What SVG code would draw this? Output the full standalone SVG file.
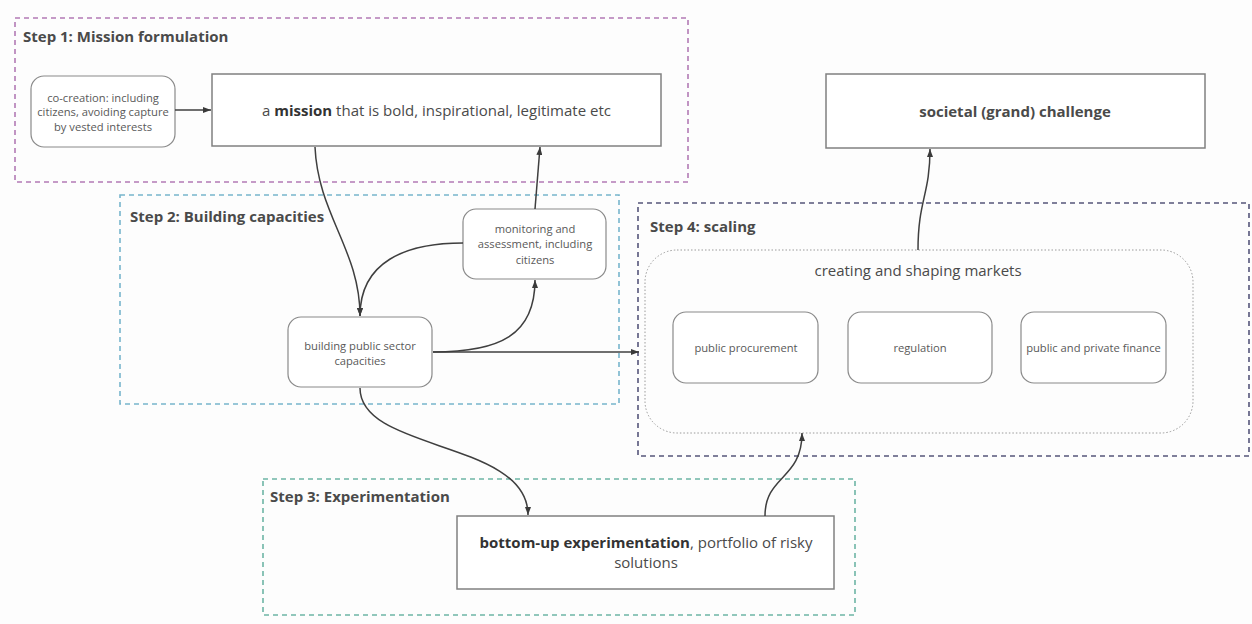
<svg xmlns="http://www.w3.org/2000/svg" width="1252" height="624" viewBox="0 0 1252 624">
  <defs>
    <marker id="arrow" viewBox="0 0 8 6" refX="8" refY="3" markerWidth="8" markerHeight="6" markerUnits="userSpaceOnUse" orient="auto">
      <path d="M0,0 L8,3 L0,6 z" fill="#3a3a3a"/>
    </marker>
    <style>
      text { font-family: "Open Sans", "Noto Sans", "Liberation Sans", sans-serif; fill: #4a4a4a; }
      .title { font-size: 15px; font-weight: bold; }
      .small { font-size: 11.2px; text-anchor: middle; fill: #595959; }
      .mid { font-size: 15px; text-anchor: middle; }
      .frame { fill: none; stroke-width: 1.6; stroke-dasharray: 5 4; }
      .round { fill: #fff; stroke: #8a8a8a; stroke-width: 1.2; }
      .square { fill: #fff; stroke: #808080; stroke-width: 1.5; }
      .conn { fill: none; stroke: #3f3f3f; stroke-width: 1.5; marker-end: url(#arrow); }
    </style>
  </defs>

  <rect width="1252" height="624" fill="#fdfdfd"/>

  <!-- step frames -->
  <g id="step1">
    <rect class="frame" x="15" y="18" width="673" height="164" stroke="#b27ab5"/>
    <text class="title" x="23" y="42" fill="#8b3f8f">Step 1: Mission formulation</text>
  </g>
  <g id="step2">
    <rect class="frame" x="120" y="195" width="499" height="209" stroke="#77b5cc"/>
    <text class="title" x="130" y="222" fill="#4a9ac0">Step 2: Building capacities</text>
  </g>
  <g id="step3">
    <rect class="frame" x="263" y="479" width="592" height="136" stroke="#6db5a5"/>
    <text class="title" x="270" y="502" fill="#3a9e86">Step 3: Experimentation</text>
  </g>
  <g id="step4">
    <rect class="frame" x="638" y="203" width="611" height="253" stroke="#55557a" stroke-width="2"/>
    <text class="title" x="650" y="232" fill="#2f5595">Step 4: scaling</text>
  </g>

  <!-- nodes -->
  <g id="co-creation">
    <rect class="round" x="31" y="76" width="144" height="71" rx="13"/>
    <text class="small" x="103" y="101.5">co-creation: including</text>
    <text class="small" x="103" y="115.5">citizens, avoiding capture</text>
    <text class="small" x="103" y="130.5">by vested interests</text>
  </g>
  <g id="mission">
    <rect class="square" x="212" y="74" width="449" height="72"/>
    <text class="mid" x="436.5" y="116">a <tspan font-weight="bold" fill="#333">mission</tspan> that is bold, inspirational, legitimate etc</text>
  </g>
  <g id="societal-challenge">
    <rect class="square" x="826" y="74" width="379" height="74"/>
    <text class="mid" x="1015" y="117" font-weight="bold" fill="#333">societal (grand) challenge</text>
  </g>
  <g id="monitoring">
    <rect class="round" x="463" y="209" width="143" height="70" rx="13"/>
    <text class="small" x="535" y="232.5">monitoring and</text>
    <text class="small" x="535" y="247.5">assessment, including</text>
    <text class="small" x="535" y="263.5">citizens</text>
  </g>
  <g id="building-capacities">
    <rect class="round" x="288" y="317" width="144" height="70" rx="13"/>
    <text class="small" x="360" y="349.5">building public sector</text>
    <text class="small" x="360" y="364.5">capacities</text>
  </g>
  <g id="markets">
    <rect x="645" y="250" width="548" height="183" rx="32" fill="none" stroke="#9a9a9a" stroke-width="1" stroke-dasharray="1.5 2"/>
    <text class="mid" x="918" y="276" fill="#555">creating and shaping markets</text>
  </g>
  <g id="procurement">
    <rect class="round" x="673" y="312" width="145" height="71" rx="13"/>
    <text class="small" x="746" y="351.5">public procurement</text>
  </g>
  <g id="regulation">
    <rect class="round" x="848" y="312" width="144" height="71" rx="13"/>
    <text class="small" x="920" y="351.5">regulation</text>
  </g>
  <g id="finance">
    <rect class="round" x="1021" y="312" width="145" height="71" rx="13"/>
    <text class="small" x="1093.5" y="351.5">public and private finance</text>
  </g>
  <g id="experimentation">
    <rect class="square" x="457" y="516" width="377" height="73"/>
    <text class="mid" x="646" y="548"><tspan font-weight="bold" fill="#333">bottom-up experimentation</tspan>, portfolio of risky</text>
    <text class="mid" x="646" y="568">solutions</text>
  </g>

  <!-- connectors -->
  <g id="connectors">
    <path class="conn" d="M175,110 L211,110"/>
    <path class="conn" d="M315,147 C318,215 360,250 360,316"/>
    <path class="conn" d="M463,243 C405,243 360,262 360,316"/>
    <path class="conn" d="M433,352 C500,352 535,335 535,280"/>
    <path class="conn" d="M433,352 L639,352"/>
    <path class="conn" d="M360,388 C360,452 528,440 528,515"/>
    <path class="conn" d="M765,516 C765,475 802,480 802,433"/>
    <path class="conn" d="M918,250 C918,200 930,195 930,149"/>
    <path class="conn" d="M535,209 L540,147"/>
  </g>
</svg>
